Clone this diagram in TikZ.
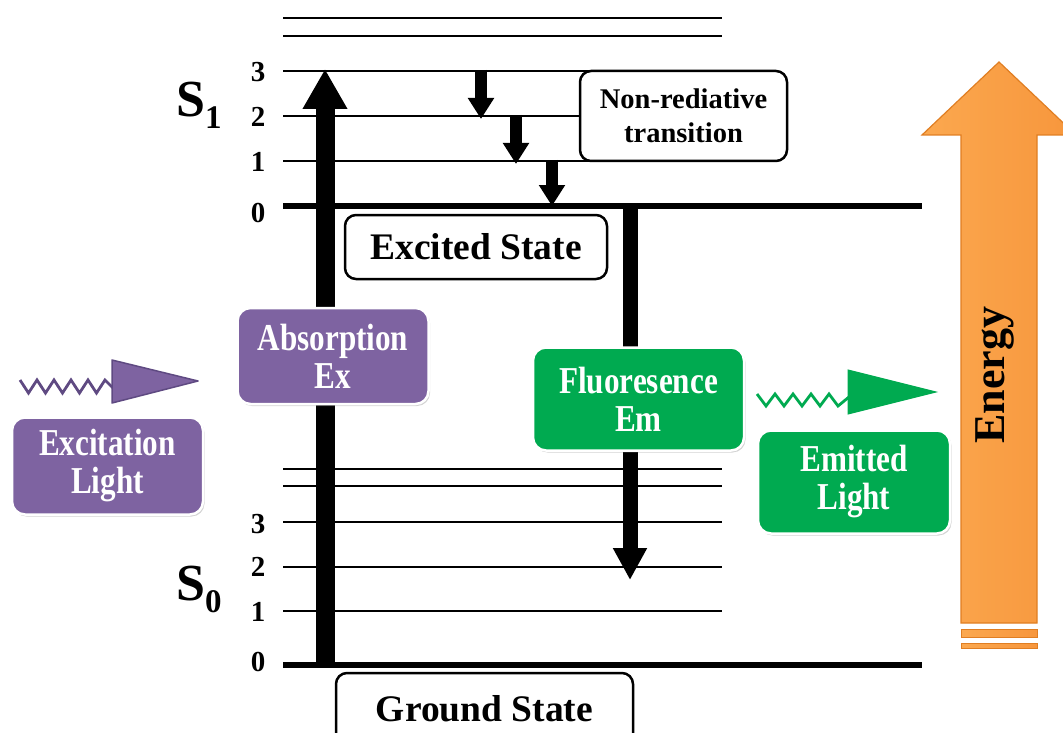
\documentclass[tikz,border=0pt]{standalone}
\usepackage{fontspec}
\setmainfont{Liberation Serif}
\newfontfamily\condfont[FakeStretch=0.82]{Liberation Serif}
\usetikzlibrary{arrows.meta,shadows}
\definecolor{jpurple}{HTML}{7E63A1}
\definecolor{jpurpledark}{HTML}{5F4A82}
\definecolor{jgreen}{HTML}{00AA50}
\definecolor{jorange}{HTML}{F7963C}
\definecolor{jorangelight}{HTML}{FBA84F}
\definecolor{jorangedark}{HTML}{E07E22}
\tikzset{
  lvl/.style={line width=2.4pt},
  gnd/.style={line width=6pt},
  wbox/.style={draw=black, line width=2.5pt, rounded corners=11pt, fill=white, inner sep=0pt, align=center,
    font=\bfseries\fontsize{37.5}{38}\selectfont},
  cbox/.style={draw=white, line width=2.5pt, rounded corners=13pt, inner sep=0pt, align=center, text=white,
    font=\condfont\bfseries\fontsize{38}{38}\selectfont,
    drop shadow={shadow xshift=1.5pt, shadow yshift=-2pt, opacity=0.35}},
  numlbl/.style={font=\bfseries\fontsize{29}{29}\selectfont, inner sep=0pt},
  bigarrow/.style={-{Triangle[length=40pt,width=42pt]}, line width=19pt},
  emarrow/.style={-{Triangle[length=32pt,width=32pt]}, line width=15pt},
  nrarrow/.style={-{Triangle[length=21pt,width=25pt]}, line width=12pt},
  wavy/.style={line width=2.8pt, line join=miter},
}
\begin{document}
\begin{tikzpicture}[x=1pt,y=-1pt]
\useasboundingbox (0,0) rectangle (1063,733);

% ---------- S1 levels ----------
\draw[lvl] (283,18) -- (722,18);
\draw[lvl] (283,36) -- (722,36);
\draw[lvl] (283,71) -- (722,71);
\draw[lvl] (283,116) -- (722,116);
\draw[lvl] (283,161) -- (722,161);
\draw[gnd] (283,206) -- (922,206);
% ---------- S0 levels ----------
\draw[lvl] (283,469) -- (722,469);
\draw[lvl] (283,486) -- (722,486);
\draw[lvl] (283,522) -- (722,522);
\draw[lvl] (283,567) -- (722,567);
\draw[lvl] (283,611) -- (722,611);
\draw[gnd] (283,665) -- (922,665);

% level numbers
\node[numlbl] (n13) at (258,72) {3};
\node[numlbl] (n12) at (258,117) {2};
\node[numlbl] (n11) at (258,162) {1};
\node[numlbl] (n10) at (258,213) {0};
\node[numlbl] (n03) at (258,524) {3};
\node[numlbl] (n02) at (258,567) {2};
\node[numlbl] (n01) at (258,612) {1};
\node[numlbl] (n00) at (258,662) {0};

% S labels
\node[inner sep=0pt, anchor=base west] (s1) at (176,117)
  {\bfseries\fontsize{52}{52}\selectfont S\raisebox{-12pt}{\fontsize{33}{33}\selectfont 1}};
\node[inner sep=0pt, anchor=base west] (s0) at (176,600)
  {\bfseries\fontsize{52}{52}\selectfont S\raisebox{-12pt}{\fontsize{33}{33}\selectfont 0}};

% ---------- transitions ----------
\coordinate (absA) at (325,665);
\coordinate (absB) at (325,69);
\draw[bigarrow] (absA) -- (absB);

\coordinate (emA) at (630,204);
\coordinate (emB) at (630,580);
\draw[emarrow] (emA) -- (emB);

\coordinate (nr1a) at (481,70);
\coordinate (nr1b) at (481,119);
\coordinate (nr2a) at (516,115);
\coordinate (nr2b) at (516,164);
\coordinate (nr3a) at (552,160);
\coordinate (nr3b) at (552,206);
\draw[nrarrow] (nr1a) -- (nr1b);
\draw[nrarrow] (nr2a) -- (nr2b);
\draw[nrarrow] (nr3a) -- (nr3b);

% ---------- white boxes ----------
\node[wbox, minimum width=262pt, minimum height=64pt] (excited) at (476,247) {Excited State};
\node[wbox, minimum width=297pt, minimum height=72pt] (ground) at (484.5,709) {Ground State};
\node[wbox, minimum width=207pt, minimum height=90pt, font=\bfseries\fontsize{28.5}{34}\selectfont] (nonrad) at (683.5,116) {Non-rediative\\transition};

% ---------- coloured boxes ----------
\node[cbox, fill=jpurple, minimum width=191pt, minimum height=96pt] (absorb) at (333,356) {Absorption\\Ex};
\node[cbox, fill=jpurple, minimum width=191pt, minimum height=97pt] (exlight) at (107.5,466) {Excitation\\Light};
\node[cbox, fill=jgreen, minimum width=211pt, minimum height=103pt] (fluor) at (638.5,399) {Fluoresence\\Em};
\node[cbox, fill=jgreen, minimum width=192pt, minimum height=103pt] (emitted) at (854,482) {Emitted\\Light};

% ---------- wavy light arrows ----------
\coordinate (pw1) at (20,380);
\coordinate (pw2) at (113,388);
\draw[wavy, jpurpledark] (pw1) -- (28.5,393) -- (37,380) -- (45.5,393) -- (54,380) -- (62.5,393)
  -- (71,380) -- (79.5,393) -- (88,380) -- (96.5,393) -- (105,380) -- (pw2);
\draw[fill=jpurple, draw=jpurpledark, line width=1.5pt, line join=round] (112,360) -- (112,403) -- (198,381) -- cycle;

\coordinate (gw1) at (757,394);
\coordinate (gw2) at (849,397);
\draw[wavy, jgreen] (gw1) -- (766,406) -- (775,394) -- (784,406) -- (793,394) -- (802,406)
  -- (811,394) -- (820,406) -- (829,394) -- (838,406) -- (gw2);
\draw[fill=jgreen, draw=jgreen, line width=1pt] (848,370) -- (848,414) -- (936,392) -- cycle;

% ---------- Energy arrow ----------
\shade[left color=jorangelight, right color=jorange, draw=jorangedark, line width=1.2pt]
  (961,623) -- (961,135) -- (922,135) -- (999,62) -- (1076,135) -- (1037,135) -- (1037,623) -- cycle;
\shade[left color=jorangelight, right color=jorange, draw=jorangedark, line width=1pt]
  (961,629) rectangle (1037,637);
\shade[left color=jorangelight, right color=jorange, draw=jorangedark, line width=1pt]
  (961,643) rectangle (1037,648);
\node[rotate=90, inner sep=0pt, font=\bfseries\fontsize{44}{44}\selectfont] (energy) at (995,375) {Energy};

\end{tikzpicture}
\end{document}
